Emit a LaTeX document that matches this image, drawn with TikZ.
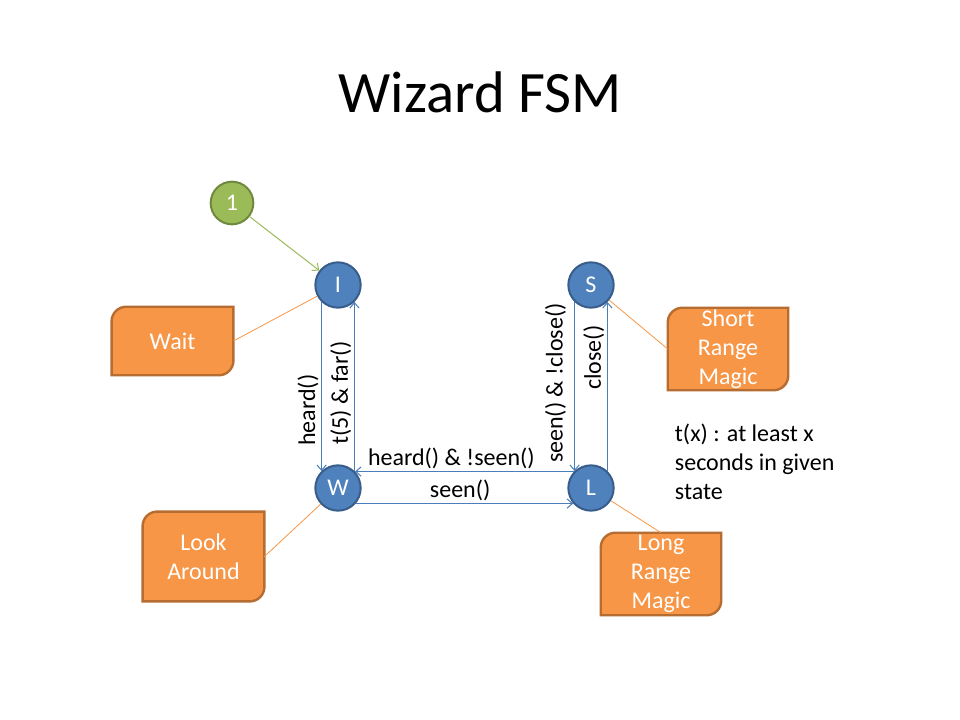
\documentclass[tikz,border=0pt]{standalone}
\usepackage{fontspec}
\setmainfont{Carlito}
\usetikzlibrary{arrows.meta}
\usetikzlibrary{backgrounds}

\definecolor{stateblue}{HTML}{4F81BD}
\definecolor{stateborder}{HTML}{385D8A}
\definecolor{startgreen}{HTML}{9BBB59}
\definecolor{startborder}{HTML}{71893F}
\definecolor{calloutorange}{HTML}{F79646}
\definecolor{calloutborder}{HTML}{B66D31}
\definecolor{linkblue}{HTML}{4A7EBB}

% frame of a callout: round top left and bottom right corners
\newcommand{\calloutframe}[1]{%
  \draw[calloutline] ([yshift=-11pt]#1.north west) arc[start angle=180, end angle=90, radius=11pt]
    -- (#1.north east) -- ([yshift=11pt]#1.south east) arc[start angle=0, end angle=-90, radius=11pt]
    -- (#1.south west) -- cycle;}

\begin{document}
\begin{tikzpicture}[x=0.75pt, y=-0.75pt,
    state/.style={circle, draw=stateborder, line width=1.5pt, fill=stateblue, text=white, minimum size=34pt, inner sep=0pt, font=\fontsize{18}{21.6}\selectfont},
    start/.style={circle, draw=startborder, line width=1.5pt, fill=startgreen, text=white, minimum size=32pt, inner sep=0pt, font=\fontsize{18}{21.6}\selectfont},
    callout/.style={text=white, align=center, inner sep=0pt, minimum width=91pt, font=\fontsize{18}{21.6}\selectfont},
    calloutline/.style={draw=calloutborder, line width=1.8pt, fill=calloutorange},
    calloutlink/.style={draw=calloutorange, line width=0.6pt},
    link/.style={draw=linkblue, line width=0.75pt, -{Straight Barb[length=4pt, width=7pt]}},
    startlink/.style={draw=startgreen, line width=0.75pt, -{Straight Barb[length=4pt, width=7pt]}},
    lbl/.style={font=\fontsize{18}{21.6}\selectfont, inner sep=2pt}]
  \useasboundingbox (0,0) rectangle (960,720);

  \node[font=\fontsize{44}{53}\selectfont] (title) at (480,92) {Wizard FSM};

  % states
  \node[start] (one) at (232,203) {1};
  \node[state] (I) at (338,285) {I};
  \node[state] (S) at (591,285) {S};
  \node[state] (W) at (338,488) {W};
  \node[state] (L) at (591,488) {L};

  % callouts
  \node[callout, minimum height=51pt] (wait) at (172.5,341) {Wait};
  \node[callout, minimum height=67pt] (look) at (203.5,556.5) {Look\\Around};
  \node[callout, minimum width=90pt, minimum height=61.5pt] (short) at (728,349) {Short\\Range\\Magic};
  \node[callout, minimum width=90pt, minimum height=61.5pt] (long) at (661,574) {Long\\Range\\Magic};
  \begin{scope}[on background layer]
    \calloutframe{wait}
    \calloutframe{look}
    \calloutframe{short}
    \calloutframe{long}
  \end{scope}

  \draw[calloutlink] (wait.east) -- (I);
  \draw[calloutlink] (look.east) -- (W);
  \draw[calloutlink] (short.west) -- (S);
  \draw[calloutlink] (long.north) -- (L);

  % transitions
  \draw[startlink] (one) -- (I);
  \draw[link] (I.226) -- (W.134) node[lbl, pos=0.64, rotate=90, anchor=south] {heard()};
  \draw[link] (W.46) -- (I.314) node[lbl, pos=0.46, rotate=90, anchor=south] {t(5) \& far()};
  \draw[link] (L.136) -- (W.44) node[lbl, pos=0.56, anchor=south] {heard() \& !seen()};
  \draw[link] (W.-41) -- (L.221) node[lbl, pos=0.48, anchor=south] {seen()};
  \draw[link] (S.226) -- (L.134) node[lbl, pos=0.48, rotate=90, anchor=south, inner sep=6pt] {seen() \& !close()};
  \draw[link] (L.46) -- (S.314) node[lbl, pos=0.67, rotate=90, anchor=south] {close()};

  \node[lbl, anchor=west, align=left] (note) at (672,462) {t(x) : at least x\\seconds in given\\state};
\end{tikzpicture}
\end{document}
